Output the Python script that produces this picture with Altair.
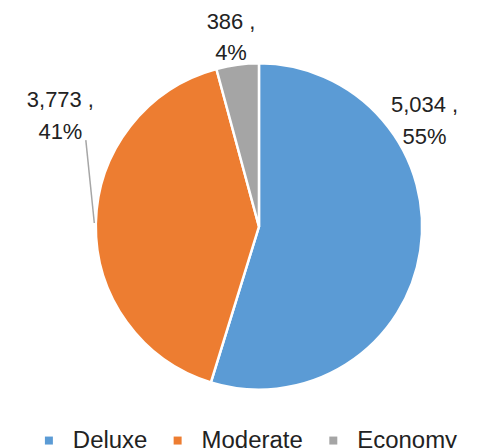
import json
import altair as alt
import pandas as pd

categories = ["Deluxe", "Moderate", "Economy"]
values = [5034, 3773, 386]
colors = ["#5B9BD5", "#ED7D31", "#A5A5A5"]

df = pd.DataFrame({"category": categories, "value": values})

order_expr = f"indexof({json.dumps(categories)}, datum.category)"
base = (
    alt.Chart(df)
    .transform_joinaggregate(total="sum(value)")
    .transform_calculate(
        order=order_expr,
        label="format(datum.value, ',') + ' ,|' + format(datum.value / datum.total, '.0%')",
    )
)

arc = base.mark_arc(outerRadius=163.5, stroke="white", strokeWidth=2.5).encode(
    theta=alt.Theta("value:Q", stack=True),
    color=alt.Color(
        "category:N",
        scale=alt.Scale(domain=categories, range=colors),
        legend=alt.Legend(
            title=None,
            orient="none",
            direction="horizontal",
            legendX=0,
            legendY=425,
            symbolType="square",
            symbolSize=64,
            symbolStrokeWidth=0,
            labelFontSize=24,
            labelFont="Liberation Sans",
            labelColor="#222222",
            labelOffset=12,
            columnPadding=18,
            padding=0,
        ),
    ),
    order=alt.Order("order:Q"),
)

# label offsets from the outside-end position of each slice
label_offsets = {"Deluxe": (-22, -150), "Moderate": (-9, -123), "Economy": (-3, -17)}
texts = []
for cat in categories:
    dx, dy = label_offsets[cat]
    texts.append(
        base.mark_text(
            radius=190,
            dx=dx,
            dy=dy,
            fontSize=22,
            font="Liberation Sans",
            lineBreak="|",
            lineHeight=32,
            align="center",
            baseline="middle",
            color="#222222",
        ).encode(
            theta=alt.Theta("value:Q", stack=True),
            detail="category:N",
            order=alt.Order("order:Q"),
            text=alt.condition(f"datum.category == '{cat}'", "label:N", alt.value("")),
        )
    )

leader = base.mark_rule(color="#A6A6A6", strokeWidth=1.5).encode(
    x=alt.value(49), y=alt.value(136), x2=alt.value(57.5), y2=alt.value(219)
).transform_filter("datum.category == 'Moderate'")

chart = (
    alt.layer(arc, leader, *texts)
    .properties(
        width=445,
        height=445,
        padding={"left": 37, "top": 4, "right": 0, "bottom": 0},
        autosize=alt.AutoSizeParams(type="none"),
        background="white",
    )
    .configure_view(stroke=None)
)

chart.save("out.html", embed_options={"renderer": "svg", "actions": False})
